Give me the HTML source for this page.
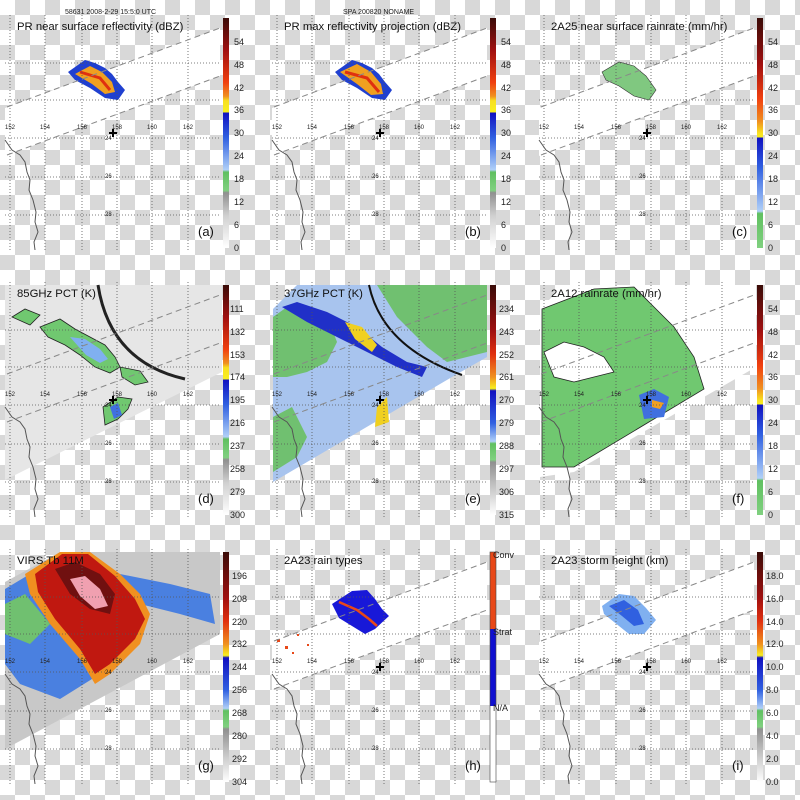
<!DOCTYPE html>
<html><head><meta charset="utf-8"><style>html,body{margin:0;padding:0;background:#fff}svg{display:block}</style></head>
<body>
<svg width="800" height="800" viewBox="0 0 800 800" xmlns="http://www.w3.org/2000/svg" font-family="Liberation Sans, sans-serif">
<defs>
<pattern id="chk" width="30" height="30" patternUnits="userSpaceOnUse">
<rect width="30" height="30" fill="#fff"/><rect x="15" y="0" width="15" height="15" fill="#d8d8d8"/><rect x="0" y="15" width="15" height="15" fill="#d8d8d8"/>
</pattern>
<g id="grid" stroke="#555" stroke-width="0.8" stroke-dasharray="1,2" fill="none">
<path d="M10 15V250M45 15V250M82 15V250M117 15V250M152 15V250M188 15V250M5 63H220M5 100H220M5 138H220M5 177H220M5 215H220"/>
</g>
<path id="coast" d="M5 140 L12 150 L20 155 L25 162 L27 172 L30 180 L29 190 L33 200 L36 212 L35 222 L38 232 L34 242 L35 250" fill="none" stroke="#555" stroke-width="1"/>
<g id="dash" stroke="#888" stroke-width="1" stroke-dasharray="6,4" fill="none"><path d="M7 107 L220 28M7 155 L220 76"/></g>
<polygon id="swath" points="5,108 220,28 220,76 5,156" fill="#fff"/>
<g id="ticks" font-size="6" fill="#222">
<text x="5" y="129">152</text><text x="40" y="129">154</text><text x="77" y="129">156</text><text x="112" y="129">158</text><text x="147" y="129">160</text><text x="183" y="129">162</text>
<text x="105" y="140">24</text><text x="105" y="178">26</text><text x="105" y="216">28</text>
</g>
<path id="cross" d="M109 133h8M113 129v8" stroke="#000" stroke-width="2"/>
<linearGradient id="gA" x1="0" y1="0" x2="0" y2="1">
<stop offset="0" stop-color="#3a0c08"/><stop offset="0.14" stop-color="#a01010"/><stop offset="0.28" stop-color="#f04010"/><stop offset="0.34" stop-color="#f09020"/><stop offset="0.36" stop-color="#f8e020"/><stop offset="0.41" stop-color="#f8f020"/><stop offset="0.41" stop-color="#1010c0"/><stop offset="0.52" stop-color="#3060e0"/><stop offset="0.66" stop-color="#b0d0f8"/><stop offset="0.67" stop-color="#60c060"/><stop offset="0.75" stop-color="#80d080"/><stop offset="0.76" stop-color="#909090"/><stop offset="0.86" stop-color="#d0d0d0"/><stop offset="1" stop-color="#fff"/>
</linearGradient>
<linearGradient id="gF" x1="0" y1="0" x2="0" y2="1">
<stop offset="0" stop-color="#3a0c08"/><stop offset="0.2" stop-color="#a01010"/><stop offset="0.35" stop-color="#f04010"/><stop offset="0.45" stop-color="#f09020"/><stop offset="0.5" stop-color="#f8e020"/><stop offset="0.52" stop-color="#f8f020"/><stop offset="0.52" stop-color="#1010c0"/><stop offset="0.65" stop-color="#3060e0"/><stop offset="0.84" stop-color="#b0d0f8"/><stop offset="0.85" stop-color="#60c060"/><stop offset="1" stop-color="#80d080"/>
</linearGradient>
<linearGradient id="gG" x1="0" y1="0" x2="0" y2="1">
<stop offset="0" stop-color="#3a0c08"/><stop offset="0.2" stop-color="#a01010"/><stop offset="0.3" stop-color="#e03010"/><stop offset="0.4" stop-color="#f09020"/><stop offset="0.45" stop-color="#f8f020"/><stop offset="0.46" stop-color="#1010c0"/><stop offset="0.6" stop-color="#3060e0"/><stop offset="0.68" stop-color="#b0d0f8"/><stop offset="0.69" stop-color="#60c060"/><stop offset="0.76" stop-color="#80d080"/><stop offset="0.77" stop-color="#909090"/><stop offset="0.9" stop-color="#d0d0d0"/><stop offset="1" stop-color="#fff"/>
</linearGradient>
<linearGradient id="gH" x1="0" y1="0" x2="0" y2="1">
<stop offset="0" stop-color="#e84818"/><stop offset="0.335" stop-color="#e84818"/><stop offset="0.335" stop-color="#1010d0"/><stop offset="0.67" stop-color="#1010d0"/><stop offset="0.67" stop-color="#fff"/><stop offset="1" stop-color="#fff"/>
</linearGradient>
</defs>
<rect width="800" height="800" fill="url(#chk)"/>

<!-- (a) -->
<g transform="translate(0,0)">
<use href="#swath"/>
<polygon points="68,72 85,60 95,63 105,68 112,74 118,82 125,90 118,100 105,98 90,88 75,80" fill="#2040d0"/>
<polygon points="75,74 90,66 102,72 112,82 115,92 105,94 92,84" fill="#f0a020"/>
<path d="M80 72 L100 78 L110 90" stroke="#e03010" stroke-width="3" fill="none"/>
<use href="#grid"/><use href="#dash"/><use href="#coast"/><use href="#ticks"/><use href="#cross"/>
<text x="65" y="14" font-size="7" fill="#222">58631 2008-2-29 15:5:0 UTC</text>
<text x="17" y="30" font-size="11.3" fill="#111">PR near surface reflectivity (dBZ)</text>
<text x="198" y="236" font-size="13" fill="#111">(a)</text>
<rect x="223" y="18" width="6" height="230" fill="url(#gA)"/>
<g font-size="9" fill="#222"><text x="234" y="45">54</text><text x="234" y="68">48</text><text x="234" y="91">42</text><text x="234" y="113">36</text><text x="234" y="136">30</text><text x="234" y="159">24</text><text x="234" y="182">18</text><text x="234" y="205">12</text><text x="234" y="228">6</text><text x="234" y="251">0</text></g>
</g>

<!-- (b) -->
<g transform="translate(267,0)">
<use href="#swath"/>
<polygon points="68,72 85,60 95,63 105,68 112,74 118,82 125,90 118,100 105,98 90,88 75,80" fill="#2040d0"/>
<polygon points="73,72 90,64 104,72 114,84 116,94 104,95 90,84" fill="#f0a020"/>
<path d="M78 72 L100 78 L112 92" stroke="#e03010" stroke-width="3" fill="none"/>
<use href="#grid"/><use href="#dash"/><use href="#coast"/><use href="#ticks"/><use href="#cross"/>
<text x="76" y="14" font-size="7" fill="#222">SPA 200820 NONAME</text>
<text x="17" y="30" font-size="11.3" fill="#111">PR max reflectivity projection (dBZ)</text>
<text x="198" y="236" font-size="13" fill="#111">(b)</text>
<rect x="223" y="18" width="6" height="230" fill="url(#gA)"/>
<g font-size="9" fill="#222"><text x="234" y="45">54</text><text x="234" y="68">48</text><text x="234" y="91">42</text><text x="234" y="113">36</text><text x="234" y="136">30</text><text x="234" y="159">24</text><text x="234" y="182">18</text><text x="234" y="205">12</text><text x="234" y="228">6</text><text x="234" y="251">0</text></g>
</g>

<!-- (c) -->
<g transform="translate(534,0)">
<use href="#swath"/>
<polygon points="68,72 85,62 100,66 112,76 122,90 115,100 100,96 85,86 72,80" fill="#80c880" stroke="#333" stroke-width="0.6"/>
<use href="#grid"/><use href="#dash"/><use href="#coast"/><use href="#ticks"/><use href="#cross"/>
<text x="17" y="30" font-size="11.3" fill="#111">2A25 near surface rainrate (mm/hr)</text>
<text x="198" y="236" font-size="13" fill="#111">(c)</text>
<rect x="223" y="18" width="6" height="230" fill="url(#gF)"/>
<g font-size="9" fill="#222"><text x="234" y="45">54</text><text x="234" y="68">48</text><text x="234" y="91">42</text><text x="234" y="113">36</text><text x="234" y="136">30</text><text x="234" y="159">24</text><text x="234" y="182">18</text><text x="234" y="205">12</text><text x="234" y="228">6</text><text x="234" y="251">0</text></g>
</g>

<!-- (d) -->
<g transform="translate(0,267)">
<polygon points="5,18 222,18 222,105 5,213" fill="#e6e6e6"/>
<polygon points="12,50 25,42 40,48 30,58" fill="#70c870" stroke="#222" stroke-width="0.8"/>
<polygon points="40,60 60,52 75,62 90,70 105,78 115,90 120,100 110,106 95,100 80,88 65,78 48,70" fill="#70c870" stroke="#222" stroke-width="0.8"/>
<polygon points="70,70 85,72 100,82 108,92 100,96 86,88" fill="#80b0f0"/>
<polygon points="120,100 140,104 148,115 135,118 122,110" fill="#70c870" stroke="#222" stroke-width="0.8"/>
<polygon points="103,140 118,130 132,132 128,142 118,152 105,158" fill="#70c870" stroke="#222" stroke-width="0.8"/>
<polygon points="110,140 118,136 122,148 114,152" fill="#4070e0"/>
<path d="M98 18 Q110 95 185 112" stroke="#222" stroke-width="3" fill="none"/>
<use href="#grid"/><use href="#dash"/><use href="#coast"/><use href="#ticks"/><use href="#cross"/>
<text x="17" y="30" font-size="11.3" fill="#111">85GHz PCT (K)</text>
<text x="198" y="236" font-size="13" fill="#111">(d)</text>
<rect x="223" y="18" width="6" height="230" fill="url(#gA)"/>
<g font-size="9" fill="#222"><text x="230" y="45">111</text><text x="230" y="68">132</text><text x="230" y="91">153</text><text x="230" y="113">174</text><text x="230" y="136">195</text><text x="230" y="159">216</text><text x="230" y="182">237</text><text x="230" y="205">258</text><text x="230" y="228">279</text><text x="230" y="251">300</text></g>
</g>

<!-- (e) -->
<g transform="translate(267,267)">
<polygon points="6,42 30,18 220,18 220,90 185,110 6,215" fill="#a8c4ee"/>
<polygon points="6,50 20,40 50,48 65,62 70,75 60,95 40,105 20,110 6,110" fill="#70c070"/>
<polygon points="110,18 220,18 220,85 180,95 160,80 130,50" fill="#70c070"/>
<polygon points="6,150 25,140 40,170 30,190 6,205" fill="#70c070"/>
<polygon points="15,40 30,35 60,45 90,60 115,80 140,95 160,100 155,110 130,100 100,85 70,70 40,55" fill="#2030c8"/>
<polygon points="78,55 95,60 110,78 105,85 88,72" fill="#f0d020"/>
<polygon points="110,140 120,130 122,155 108,160" fill="#f0d020"/>
<path d="M102 18 Q115 80 195 108" stroke="#111" stroke-width="2" fill="none"/>
<use href="#grid"/><use href="#dash"/><use href="#coast"/><use href="#ticks"/><use href="#cross"/>
<text x="17" y="30" font-size="11.3" fill="#111">37GHz PCT (K)</text>
<text x="198" y="236" font-size="13" fill="#111">(e)</text>
<rect x="223" y="18" width="6" height="230" fill="url(#gG)"/>
<g font-size="9" fill="#222"><text x="232" y="45">234</text><text x="232" y="68">243</text><text x="232" y="91">252</text><text x="232" y="113">261</text><text x="232" y="136">270</text><text x="232" y="159">279</text><text x="232" y="182">288</text><text x="232" y="205">297</text><text x="232" y="228">306</text><text x="232" y="251">315</text></g>
</g>

<!-- (f) -->
<g transform="translate(534,267)">
<polygon points="6,42 30,18 222,18 222,100 40,205 6,210" fill="#fff"/>
<polygon points="8,42 60,22 100,20 120,40 140,60 160,90 170,122 40,200 8,200" fill="#70c870" stroke="#222" stroke-width="0.8"/>
<polygon points="10,85 30,75 50,80 70,90 80,105 60,110 40,115 20,110" fill="#fff" stroke="#222" stroke-width="0.8"/>
<polygon points="105,128 120,122 135,130 130,150 110,152" fill="#4070e0"/>
<polygon points="118,133 130,136 126,142 118,140" fill="#f0a020"/>
<use href="#grid"/><use href="#dash"/><use href="#coast"/><use href="#ticks"/><use href="#cross"/>
<text x="17" y="30" font-size="11.3" fill="#111">2A12 rainrate (mm/hr)</text>
<text x="198" y="236" font-size="13" fill="#111">(f)</text>
<rect x="223" y="18" width="6" height="230" fill="url(#gF)"/>
<g font-size="9" fill="#222"><text x="234" y="45">54</text><text x="234" y="68">48</text><text x="234" y="91">42</text><text x="234" y="113">36</text><text x="234" y="136">30</text><text x="234" y="159">24</text><text x="234" y="182">18</text><text x="234" y="205">12</text><text x="234" y="228">6</text><text x="234" y="251">0</text></g>
</g>

<!-- (g) -->
<g transform="translate(0,534)">
<polygon points="5,48 60,18 220,18 220,100 5,215" fill="#c8c8c8"/>
<polygon points="5,55 30,40 60,70 90,100 110,110 100,140 60,165 20,150 5,130" fill="#4a80e0"/>
<polygon points="5,70 25,60 50,90 30,110 5,100" fill="#70c070"/>
<polygon points="120,40 170,50 210,60 215,90 180,80 140,70" fill="#4a80e0"/>
<polygon points="25,40 60,18 90,18 120,40 140,60 150,80 140,110 110,140 95,150 80,125 50,90 30,60" fill="#f09020"/>
<polygon points="35,40 62,20 88,20 115,42 135,65 145,85 135,105 110,130 95,140 80,115 55,85 38,58" fill="#c01810"/>
<polygon points="55,35 75,28 100,40 115,60 110,80 90,75 70,60" fill="#701010"/>
<polygon points="70,45 85,42 100,55 108,72 95,75 80,62" fill="#f0a0b0"/>
<use href="#grid"/><use href="#coast"/><use href="#ticks"/>
<text x="17" y="30" font-size="11.3" fill="#111">VIRS Tb 11M</text>
<text x="198" y="236" font-size="13" fill="#111">(g)</text>
<rect x="223" y="18" width="6" height="230" fill="url(#gG)"/>
<g font-size="9" fill="#222"><text x="232" y="45">196</text><text x="232" y="68">208</text><text x="232" y="91">220</text><text x="232" y="113">232</text><text x="232" y="136">244</text><text x="232" y="159">256</text><text x="232" y="182">268</text><text x="232" y="205">280</text><text x="232" y="228">292</text><text x="232" y="251">304</text></g>
</g>

<!-- (h) -->
<g transform="translate(267,534)">
<use href="#swath"/>
<polygon points="65,70 85,57 100,56 108,65 115,75 122,82 108,95 98,100 85,92 72,84" fill="#1818d8"/>
<path d="M72 68 L90 76 L102 85 L110 92" stroke="#e84818" stroke-width="2.5" fill="none"/>
<g fill="#e84818"><rect x="10" y="105" width="3" height="3"/><rect x="18" y="112" width="3" height="3"/><rect x="30" y="100" width="2" height="2"/><rect x="25" y="118" width="2" height="2"/><rect x="40" y="110" width="2" height="2"/></g>
<use href="#grid"/><use href="#dash"/><use href="#coast"/><use href="#ticks"/><use href="#cross"/>
<text x="17" y="30" font-size="11.3" fill="#111">2A23 rain types</text>
<text x="198" y="236" font-size="13" fill="#111">(h)</text>
<rect x="223" y="18" width="6" height="230" fill="url(#gH)" stroke="#444" stroke-width="0.6"/>
<g font-size="9" fill="#222"><text x="226" y="24">Conv</text><text x="226" y="101">Strat</text><text x="226" y="177">N/A</text></g>
</g>

<!-- (i) -->
<g transform="translate(534,534)">
<use href="#swath"/>
<polygon points="68,72 85,60 100,62 112,74 122,86 110,100 95,100 80,88 70,80" fill="#80b0f0"/>
<polygon points="75,72 90,66 104,76 110,90 100,92 88,82" fill="#3060e0"/>
<use href="#grid"/><use href="#dash"/><use href="#coast"/><use href="#ticks"/><use href="#cross"/>
<text x="17" y="30" font-size="11.3" fill="#111">2A23 storm height (km)</text>
<text x="198" y="236" font-size="13" fill="#111">(i)</text>
<rect x="223" y="18" width="6" height="230" fill="url(#gG)"/>
<g font-size="9" fill="#222"><text x="232" y="45">18.0</text><text x="232" y="68">16.0</text><text x="232" y="91">14.0</text><text x="232" y="113">12.0</text><text x="232" y="136">10.0</text><text x="232" y="159">8.0</text><text x="232" y="182">6.0</text><text x="232" y="205">4.0</text><text x="232" y="228">2.0</text><text x="232" y="251">0.0</text></g>
</g>
</svg>
</body></html>
